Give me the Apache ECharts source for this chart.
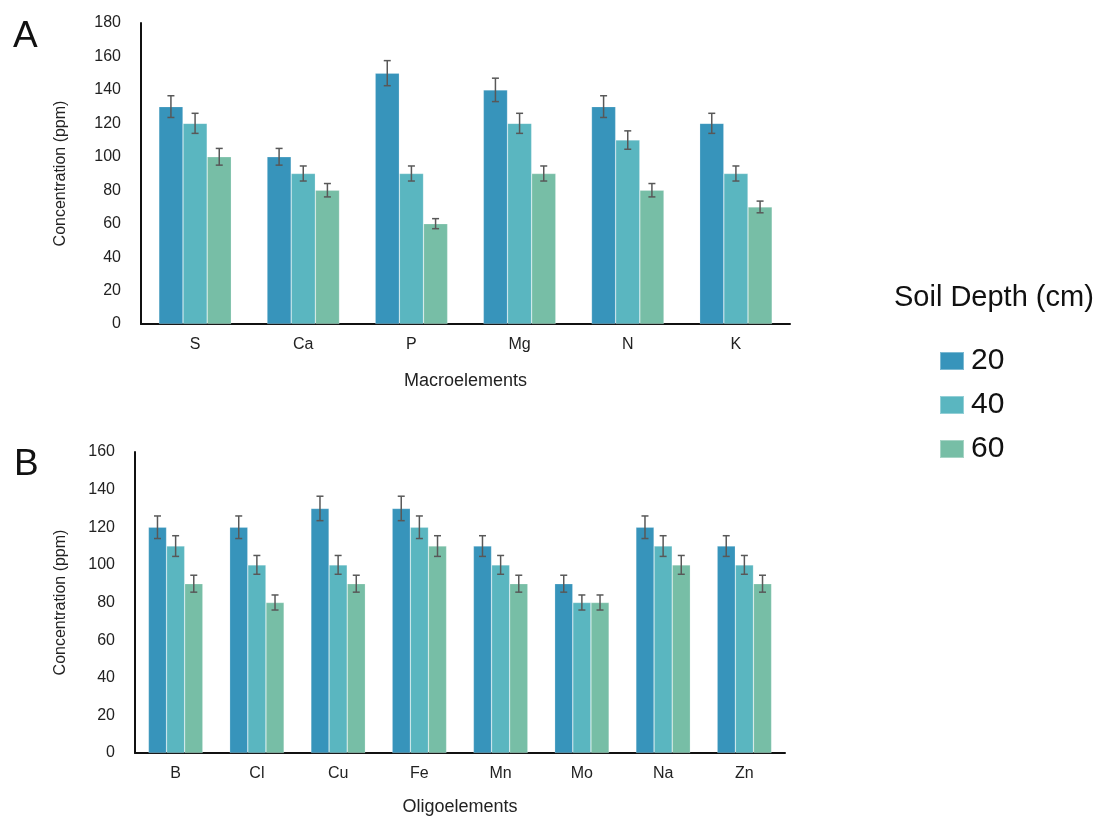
<!DOCTYPE html>
<html>
<head>
<meta charset="utf-8">
<script src="https://cdn.jsdelivr.net/npm/echarts@6/dist/echarts.min.js"></script>
<style>
  html, body { margin: 0; padding: 0; background: #fff; }
  #chart { width: 1099px; height: 819px; }
</style>
</head>
<body>
<div id="chart"></div>
<script>
// Soil element concentrations by depth (ppm), with error bars
const depths = ['20', '40', '60'];
const colors = ['#3794bb', '#5ab6c0', '#77bea6'];

const macroCategories = ['S', 'Ca', 'P', 'Mg', 'N', 'K'];
const macro20 = [130, 100, 150, 140, 130, 120];
const macro40 = [120, 90, 90, 120, 110, 90];
const macro60 = [100, 80, 60, 90, 80, 70];
const macroErr20 = [6.5, 5, 7.5, 7, 6.5, 6];
const macroErr40 = [6, 4.5, 4.5, 6, 5.5, 4.5];
const macroErr60 = [5, 4, 3, 4.5, 4, 3.5];

const oligoCategories = ['B', 'Cl', 'Cu', 'Fe', 'Mn', 'Mo', 'Na', 'Zn'];
const oligo20 = [120, 120, 130, 130, 110, 90, 120, 110];
const oligo40 = [110, 100, 100, 120, 100, 80, 110, 100];
const oligo60 = [90, 80, 90, 110, 90, 80, 100, 90];
const oligoErr20 = [6, 6, 6.5, 6.5, 5.5, 4.5, 6, 5.5];
const oligoErr40 = [5.5, 5, 5, 6, 5, 4, 5.5, 5];
const oligoErr60 = [4.5, 4, 4.5, 5.5, 4.5, 4, 5, 4.5];

const macroTicks = { min: 0, max: 180, interval: 20 };
const oligoTicks = { min: 0, max: 160, interval: 20 };

const CAT_GAP = 0.33;
const textColor = '#222';
const mainFont = "'Liberation Sans', Arial, sans-serif";

function makeBars(gridIdx, valueSets, errSets) {
  const out = [];
  valueSets.forEach((vals, i) => {
    out.push({
      name: depths[i],
      type: 'bar',
      xAxisIndex: gridIdx,
      yAxisIndex: gridIdx,
      data: vals,
      barGap: '0%',
      barCategoryGap: (CAT_GAP * 100) + '%',
      itemStyle: { color: colors[i], borderColor: 'rgba(255,255,255,0.35)', borderWidth: 0.6 },
      emphasis: { disabled: true },
      z: 2
    });
  });
  valueSets.forEach((vals, i) => {
    const errs = errSets[i];
    out.push({
      name: depths[i],
      type: 'custom',
      xAxisIndex: gridIdx,
      yAxisIndex: gridIdx,
      data: vals.map((v, k) => [k, v, errs[k]]),
      z: 5,
      silent: true,
      renderItem: function (params, api) {
        const k = api.value(0);
        const v = api.value(1);
        const e = api.value(2);
        const band = api.size([1, 0])[0];
        const group = band * (1 - CAT_GAP);
        const bw = group / 3;
        const off = -group / 2 + bw * (i + 0.5);
        const top = api.coord([k, v + e]);
        const bot = api.coord([k, v - e]);
        const x = top[0] + off;
        const cap = 3.5;
        const style = { stroke: '#585858', lineWidth: 1.5 };
        return {
          type: 'group',
          children: [
            { type: 'line', shape: { x1: x, y1: top[1], x2: x, y2: bot[1] }, style: style },
            { type: 'line', shape: { x1: x - cap, y1: top[1], x2: x + cap, y2: top[1] }, style: style },
            { type: 'line', shape: { x1: x - cap, y1: bot[1], x2: x + cap, y2: bot[1] }, style: style }
          ]
        };
      }
    });
  });
  return out;
}

function xAxisFor(gridIdx, cats, name, gap) {
  return {
    type: 'category',
    gridIndex: gridIdx,
    data: cats,
    axisLine: { lineStyle: { color: '#111', width: 2 } },
    axisTick: { show: false },
    axisLabel: { color: textColor, fontSize: 16, fontFamily: mainFont, margin: 13 },
    name: name,
    nameLocation: 'middle',
    nameGap: gap,
    nameTextStyle: { color: textColor, fontSize: 18, fontFamily: mainFont }
  };
}

function yAxisFor(gridIdx, ticks, gap) {
  return {
    type: 'value',
    gridIndex: gridIdx,
    min: ticks.min,
    max: ticks.max,
    interval: ticks.interval,
    axisLine: { show: true, lineStyle: { color: '#111', width: 2 } },
    axisTick: { show: false },
    splitLine: { show: false },
    axisLabel: { color: textColor, fontSize: 16, fontFamily: mainFont, margin: 20 },
    name: 'Concentration (ppm)',
    nameLocation: 'middle',
    nameRotate: 90,
    nameGap: gap,
    nameTextStyle: { color: textColor, fontSize: 16, fontFamily: mainFont }
  };
}

const chart = echarts.init(document.getElementById('chart'), null, { renderer: 'canvas' });

chart.setOption({
  backgroundColor: '#ffffff',
  animation: false,
  textStyle: { fontFamily: mainFont },
  graphic: [
    { type: 'text', left: 13, top: 18, style: { text: 'A', fontSize: 37, fill: '#111', fontFamily: mainFont } },
    { type: 'text', left: 14, top: 446, style: { text: 'B', fontSize: 37, fill: '#111', fontFamily: mainFont } },
    { type: 'text', left: 894, top: 283, style: { text: 'Soil Depth (cm)', fontSize: 29, fill: '#111', fontFamily: mainFont } }
  ],
  legend: {
    data: depths,
    orient: 'vertical',
    left: 934,
    top: 341,
    icon: 'rect',
    itemWidth: 24,
    itemHeight: 18,
    itemGap: 14,
    selectedMode: false,
    textStyle: { fontSize: 30, color: '#111', fontFamily: mainFont, lineHeight: 28, padding: [0, 0, 0, 2] }
  },
  grid: [
    { left: 141, top: 23, width: 649, height: 301 },
    { left: 135, top: 452, width: 650, height: 301 }
  ],
  xAxis: [
    xAxisFor(0, macroCategories, 'Macroelements', 48),
    xAxisFor(1, oligoCategories, 'Oligoelements', 45)
  ],
  yAxis: [
    yAxisFor(0, macroTicks, 72),
    yAxisFor(1, oligoTicks, 66)
  ],
  series: [].concat(
    makeBars(0, [macro20, macro40, macro60], [macroErr20, macroErr40, macroErr60]),
    makeBars(1, [oligo20, oligo40, oligo60], [oligoErr20, oligoErr40, oligoErr60])
  )
});
</script>
</body>
</html>
